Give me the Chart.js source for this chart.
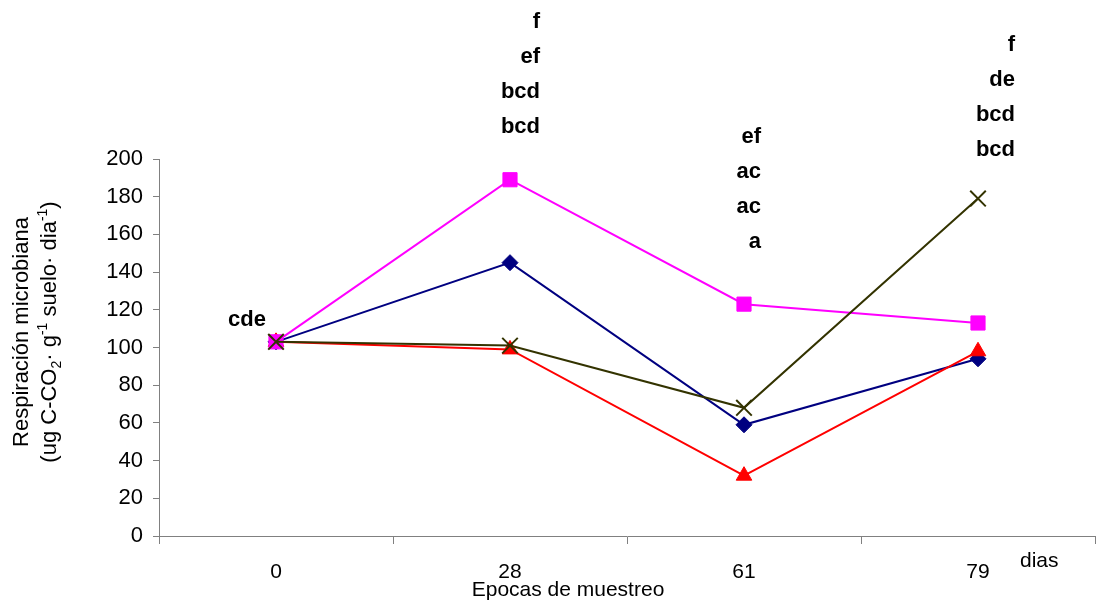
<!DOCTYPE html>
<html>
<head>
<meta charset="utf-8">
<script src="https://cdn.jsdelivr.net/npm/chart.js@4"></script>
<style>
  html, body { margin: 0; padding: 0; background: #fff; }
  #wrap { width: 1097px; height: 605px; }
</style>
</head>
<body>
<div id="wrap"><canvas id="respChart" width="1097" height="605"></canvas></div>
<script>
const ctx = document.getElementById("respChart").getContext("2d");

// epocas de muestreo (dias)
const EPOCAS = ["0", "28", "61", "79"];

// respiracion microbiana por tratamiento
const serieAzul = [103, 145, 59, 94];
const serieRosa = [103, 189, 123, 113];
const serieRoja = [103, 99, 32, 98];
const serieOliva = [103, 101, 68, 179];

// letras de significancia por epoca (de arriba hacia abajo)
const letras0 = ["cde"];
const letras28 = ["f", "ef", "bcd", "bcd"];
const letras61 = ["ef", "ac", "ac", "a"];
const letras79 = ["f", "de", "bcd", "bcd"];

const FONT = "'Liberation Sans', Arial, sans-serif";

// where each stack of letters sits: right edge offset from category, y of last line
const grupos = [
  { letras: letras0, idx: 0, dx: -10, yLast: 320 },
  { letras: letras28, idx: 1, dx: 30, yLast: 127 },
  { letras: letras61, idx: 2, dx: 17, yLast: 242 },
  { letras: letras79, idx: 3, dx: 37, yLast: 150 },
];

const textos = {
  id: "textos",
  afterDraw(chart) {
    const c = chart.ctx;
    const xs = chart.scales.x;
    c.save();
    c.fillStyle = "#000";

    // letters
    c.font = "bold 22px " + FONT;
    c.textAlign = "right";
    c.textBaseline = "middle";
    grupos.forEach((g) => {
      const x = xs.getPixelForValue(g.idx) + g.dx;
      const n = g.letras.length;
      g.letras.forEach((t, i) => {
        c.fillText(t, x, g.yLast - (n - 1 - i) * 35);
      });
    });

    // x title and units
    c.font = "21px " + FONT;
    c.textAlign = "center";
    c.fillText("Epocas de muestreo", 568, 590);
    c.textAlign = "left";
    c.fillText("dias", 1020, 561);

    // y title
    c.save();
    c.translate(22, 332);
    c.rotate(-Math.PI / 2);
    c.textAlign = "center";
    c.font = "22px " + FONT;
    c.fillText("Respiración microbiana", 0, 0);
    c.restore();

    const partes = [
      ["(ug C-CO", 0],
      ["2", 1],
      ["· g", 0],
      ["-1", -1],
      [" suelo· dia", 0],
      ["-1", -1],
      [")", 0],
    ];
    const fNormal = "22px " + FONT;
    const fChico = "14px " + FONT;
    let total = 0;
    partes.forEach((p) => {
      c.font = p[1] === 0 ? fNormal : fChico;
      total += c.measureText(p[0]).width;
    });
    c.save();
    c.translate(50, 332);
    c.rotate(-Math.PI / 2);
    c.textAlign = "left";
    let px = -total / 2;
    partes.forEach((p) => {
      c.font = p[1] === 0 ? fNormal : fChico;
      const off = p[1] === 1 ? 7 : p[1] === -1 ? -7 : 0;
      c.fillText(p[0], px, off);
      px += c.measureText(p[0]).width;
    });
    c.restore();

    c.restore();
  },
};

const data = {
  labels: EPOCAS,
  datasets: [
    {
      data: serieOliva,
      borderColor: "#333300",
      backgroundColor: "#333300",
      pointStyle: "crossRot",
      pointRadius: 11,
      pointBorderWidth: 2,
    },
    {
      data: serieRosa,
      borderColor: "#ff00ff",
      backgroundColor: "#ff00ff",
      pointStyle: "rect",
      pointRadius: 10,
    },
    {
      data: serieRoja,
      borderColor: "#ff0000",
      backgroundColor: "#ff0000",
      pointStyle: "triangle",
      pointRadius: 9,
    },
    {
      data: serieAzul,
      borderColor: "#000080",
      backgroundColor: "#000080",
      pointStyle: "rectRot",
      pointRadius: 8,
    },
  ],
};

const config = {
  type: "line",
  data: data,
  options: {
    responsive: false,
    animation: false,
    layout: {
      autoPadding: false,
      padding: { left: 0, top: 159, right: 2, bottom: 0 },
    },
    elements: {
      line: { borderWidth: 2, tension: 0 },
      point: { borderWidth: 1 },
    },
    plugins: {
      legend: { display: false },
      tooltip: { enabled: false },
    },
    scales: {
      x: {
        offset: true,
        grid: {
          offset: true,
          drawOnChartArea: false,
          tickLength: 8,
          color: "#808080",
        },
        border: { color: "#808080" },
        ticks: {
          color: "#000",
          padding: 16,
          font: { family: FONT, size: 21 },
        },
        afterFit(s) {
          s.height = 69;
          s.paddingLeft = 0;
          s.paddingRight = 0;
        },
      },
      y: {
        min: 0,
        max: 200,
        ticks: {
          stepSize: 20,
          color: "#000",
          padding: 10,
          font: { family: FONT, size: 22 },
        },
        grid: {
          drawOnChartArea: false,
          tickLength: 6,
          color: "#808080",
        },
        border: { color: "#808080" },
        afterFit(s) {
          s.width = 159;
        },
      },
    },
  },
  plugins: [textos],
};

const respChart = new Chart(ctx, config);
</script>
</body>
</html>
